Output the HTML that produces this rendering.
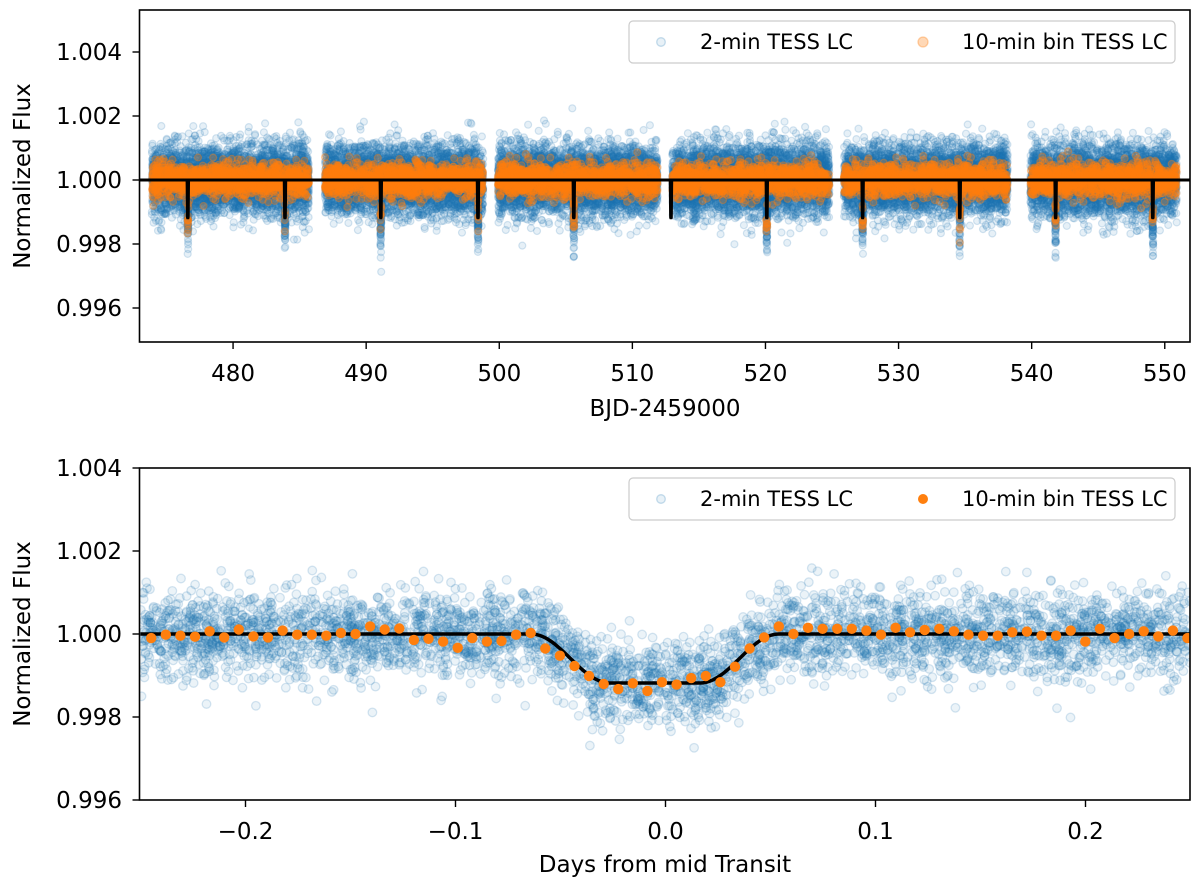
<!DOCTYPE html>
<html><head><meta charset="utf-8">
<style>
html,body{margin:0;padding:0;background:#fff;}
svg{display:block;font-family:"DejaVu Sans","Liberation Sans",sans-serif;}
</style></head>
<body>
<svg id="chart" width="1200" height="882" viewBox="0 0 1200 882" xmlns="http://www.w3.org/2000/svg">
<defs>
<clipPath id="clipTop"><rect x="139.5" y="10" width="1050.5" height="332"/></clipPath>
<clipPath id="clipBot"><rect x="139.5" y="468" width="1050.5" height="332"/></clipPath>
</defs>
<g id="topScatter" clip-path="url(#clipTop)"></g>
<g id="botScatter" clip-path="url(#clipBot)"></g>
<g id="axes"></g>
</svg>
<script>
// ---------- data ----------
const segStarts = [473.9, 486.9, 499.9, 513.0, 525.9, 539.9];
const segEnds   = [485.7, 498.8, 511.9, 524.8, 538.2, 550.9];
const transitTimes = [476.6, 483.9, 491.1, 498.4, 505.6, 512.9, 520.1, 527.3, 534.6, 541.8, 549.1];
const transitDepth = 0.00118;
const transitCenter = -0.005;
const transitOuterHalf = 0.0590;
const transitInnerHalf = 0.0215;
const binStart = -0.2449;
const binStep = 0.00695;
const binPpm = [-100,-17,-41,-66,66,-83,108,-58,-83,83,-17,-17,-41,25,0,183,108,133,-141,-116,-183,-332,-100,-183,-166,-17,25,-349,-523,-772,-1013,-1204,-1328,-1187,-1370,-1162,
 -1220,-1062,-1013,-1162,-789,-349,-83,183,0,149,125,125,125,83,-17,149,42,100,125,66,-17,-41,-41,42,58,-41,-41,83,-183,125,-100,0,66,-58,83,-100];
const topXTicks = [480,490,500,510,520,530,540,550];
const yTicks = [0.996,0.998,1.000,1.002,1.004];
const botXTicks = [-0.2,-0.1,0.0,0.1,0.2];
const botXLabels = ["\u22120.2","\u22120.1","0.0","0.1","0.2"];

// ---------- scales ----------
const xT = t => 139.5 + (t - 472.97) * 13.31;
const yT = f => 180 - (f - 1) * 32000;
const xB = t => 665.5 + t * 2100;
const yB = f => 634 - (f - 1) * 41500;

function model(dt){
  const a = Math.abs(dt);
  if (a >= transitOuterHalf) return 1;
  if (a <= transitInnerHalf) return 1 - transitDepth;
  const s = (1 - Math.cos(Math.PI * (transitOuterHalf - a) / (transitOuterHalf - transitInnerHalf))) / 2;
  return 1 - transitDepth * s;
}
function modelTop(t){
  let f = 1;
  for (const tt of transitTimes){ if (Math.abs(t-tt) < 0.1) f = model(t - tt); }
  return f;
}
// deterministic noise texture for the unbinned cloud
let seed = 12345;
function rnd(){ seed |= 0; seed = seed + 0x6D2B79F5 | 0; let t = Math.imul(seed ^ seed >>> 15, 1 | seed); t = t + Math.imul(t ^ t >>> 7, 61 | t) ^ t; return ((t ^ t >>> 14) >>> 0) / 4294967296; }
function gauss(){ let u = rnd()||1e-9, v = rnd(); return Math.sqrt(-2*Math.log(u))*Math.cos(2*Math.PI*v); }

const NS = "http://www.w3.org/2000/svg";
function mk(tag, attrs, parent){ const e = document.createElementNS(NS, tag); for (const k in attrs) e.setAttribute(k, attrs[k]); parent.appendChild(e); return e; }

// ---------- top panel ----------
const topG = document.getElementById('topScatter');
let blueHtml = '', orangeHtml = '';
for (let s = 0; s < segStarts.length; s++){
  const n = Math.round((segEnds[s]-segStarts[s]) * 420);
  for (let i = 0; i < n; i++){
    const t = segStarts[s] + rnd()*(segEnds[s]-segStarts[s]);
    const f = modelTop(t) + gauss()*0.00052;
    blueHtml += `<circle cx="${xT(t).toFixed(1)}" cy="${yT(f).toFixed(1)}" r="3.5"/>`;
  }
  for (const tt of transitTimes){
    if (tt < segStarts[s] || tt > segEnds[s]) continue;
    for (let i = 0; i < 70; i++){
      const t = tt + (rnd()-0.5)*0.12;
      const f = model(t-tt) + gauss()*0.0005;
      blueHtml += `<circle cx="${xT(t).toFixed(1)}" cy="${yT(f).toFixed(1)}" r="3.5"/>`;
    }
  }
  const m = Math.round((segEnds[s]-segStarts[s]) * 120);
  for (let i = 0; i < m; i++){
    const t = segStarts[s] + rnd()*(segEnds[s]-segStarts[s]);
    const f = modelTop(t) + gauss()*0.00025;
    orangeHtml += `<circle cx="${xT(t).toFixed(1)}" cy="${yT(f).toFixed(1)}" r="3.5"/>`;
  }
}
const tb = mk('g', {fill:'rgba(31,119,180,0.11)', stroke:'rgba(31,119,180,0.18)', 'stroke-width':'1.2'}, topG);


tb.innerHTML = blueHtml;
const to = mk('g', {fill:'rgba(255,127,14,0.30)', stroke:'rgba(255,127,14,0.35)', 'stroke-width':'1.2'}, topG);


to.innerHTML = orangeHtml;
let pts = [[472.97,1]];
for (const tt of transitTimes){
  for (let k = -40; k <= 40; k++){ const t = tt + k*0.0025; pts.push([t, model(t-tt)]); }
}
pts.push([551.9,1]);
const topModel = mk('polyline', {points: pts.map(p=>xT(p[0]).toFixed(2)+','+yT(p[1]).toFixed(2)).join(' '), fill:'none', stroke:'#000', 'stroke-width':'3'}, topG);



// ---------- bottom panel ----------
const botG = document.getElementById('botScatter');
let bb = '';
for (let i = 0; i < 4200; i++){
  const t = -0.25 + rnd()*0.5;
  const f = model(t - transitCenter) + gauss()*0.00052;
  bb += `<circle cx="${xB(t).toFixed(1)}" cy="${yB(f).toFixed(1)}" r="4.3"/>`;
}
const bbG = mk('g', {fill:'rgba(31,119,180,0.09)', stroke:'rgba(31,119,180,0.18)', 'stroke-width':'1.3'}, botG);


bbG.innerHTML = bb;
let mp = [];
for (let k = 0; k <= 500; k++){ const t = -0.25 + k*0.001; mp.push(xB(t).toFixed(2)+','+yB(model(t-transitCenter)).toFixed(2)); }
const botModel = mk('polyline', {points: mp.join(' '), fill:'none', stroke:'#000', 'stroke-width':'3.5'}, botG);


const binG = mk('g', {fill:'#ff7f0e'}, botG);


binPpm.forEach((v, i) => {
  const c = mk('circle', {cx: xB(binStart + i*binStep).toFixed(1), cy: yB(1 + v*1e-6).toFixed(1), r: 5.2}, binG);
  
  
});

// ---------- axes ----------
const ax = document.getElementById('axes');
function frame(y0, y1, name){
  const r = mk('rect', {x:139.5, y:y0, width:1050.5, height:y1-y0, fill:'none', stroke:'#000', 'stroke-width':'1.6'}, ax);
  
  
}
frame(10, 342, 'top-axes-frame');
frame(468, 800, 'bottom-axes-frame');
function text(x, y, s, anchor, size, name, rot){
  const t = mk('text', {x:x, y:y, 'text-anchor':anchor, 'font-size':size, fill:'#000'}, ax);
  if (rot) t.setAttribute('transform', `rotate(-90 ${x} ${y})`);
  t.textContent = s;
  
  
  return t;
}
topXTicks.forEach(v => {
  const x = xT(v);
  const l = mk('line', {x1:x, x2:x, y1:342, y2:349, stroke:'#000', 'stroke-width':'1.4'}, ax);
  
  
  text(x, 381, String(v), 'middle', 23, 'top-x-tick-label');
});
yTicks.forEach(v => {
  let y = yT(v);
  let l = mk('line', {x1:132.5, x2:139.5, y1:y, y2:y, stroke:'#000', 'stroke-width':'1.4'}, ax);
  
  
  text(122, y+8, v.toFixed(3), 'end', 23, 'top-y-tick-label');
  y = yB(v);
  l = mk('line', {x1:132.5, x2:139.5, y1:y, y2:y, stroke:'#000', 'stroke-width':'1.4'}, ax);
  
  
  text(122, y+8, v.toFixed(3), 'end', 23, 'bottom-y-tick-label');
});
botXTicks.forEach((v, i) => {
  const x = xB(v);
  const l = mk('line', {x1:x, x2:x, y1:800, y2:807, stroke:'#000', 'stroke-width':'1.4'}, ax);
  
  
  text(x, 839, botXLabels[i], 'middle', 23, 'bottom-x-tick-label');
});
text(30, 176, 'Normalized Flux', 'middle', 23, 'top-y-axis-title', true);
text(30, 634, 'Normalized Flux', 'middle', 23, 'bottom-y-axis-title', true);
text(665, 416, 'BJD-2459000', 'middle', 23, 'top-x-axis-title');
text(665, 872, 'Days from mid Transit', 'middle', 23, 'bottom-x-axis-title');

function legend(y0, orangeSolid, name){
  const g = mk('g', {}, ax);
  
  
  mk('rect', {x:629, y:y0, width:546, height:42, rx:4, fill:'rgba(255,255,255,0.8)', stroke:'#ccc', 'stroke-width':'1.2'}, g);
  mk('circle', {cx:661, cy:y0+21, r:4.3, fill:'rgba(31,119,180,0.10)', stroke:'rgba(31,119,180,0.25)', 'stroke-width':'1.3'}, g);
  const t1 = mk('text', {x:700, y:y0+28, 'font-size':21}, g); t1.textContent = '2-min TESS LC';
  
  
  mk('circle', {cx:923, cy:y0+21, r:5, fill: orangeSolid ? '#ff7f0e' : 'rgba(255,127,14,0.30)', stroke: orangeSolid ? 'none' : 'rgba(255,127,14,0.35)', 'stroke-width':'1.3'}, g);
  const t2 = mk('text', {x:962, y:y0+28, 'font-size':21}, g); t2.textContent = '10-min bin TESS LC';
  
  
}
legend(21, false, 'top-legend');
legend(478, true, 'bottom-legend');
</script>
</body></html>
